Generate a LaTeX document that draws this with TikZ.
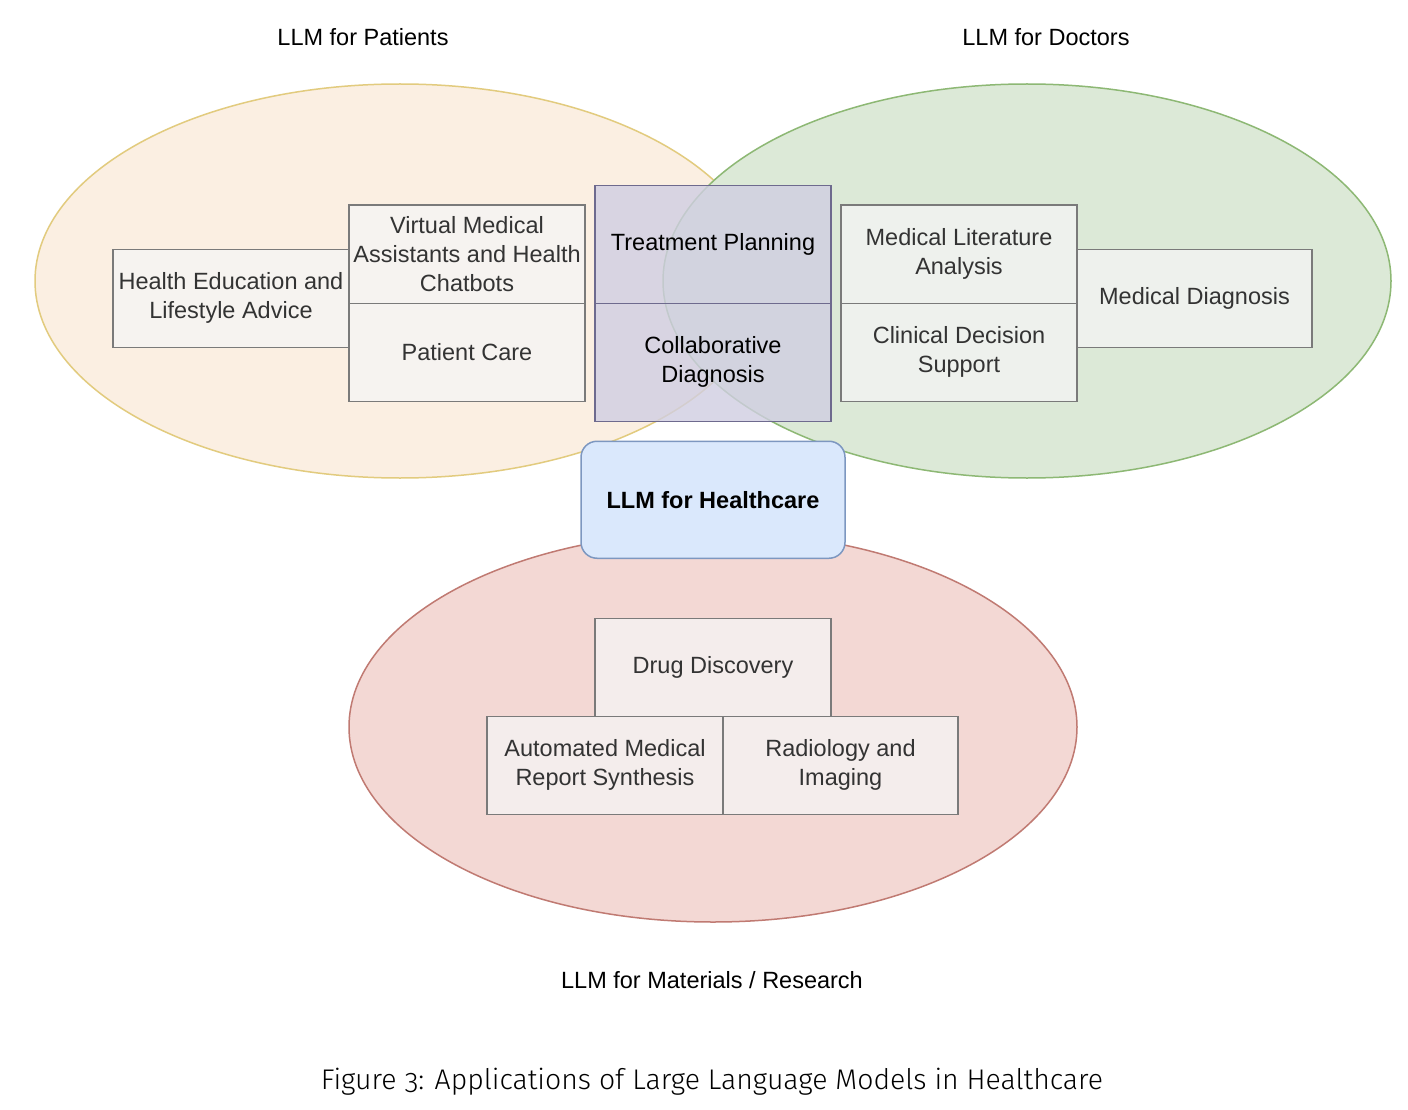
\documentclass[tikz,border=0pt]{standalone}
\usepackage{fontspec}
\setmainfont{Liberation Sans}
\newfontfamily\capfont[Numbers=OldStyle]{Fira Sans Light}
\usepackage{tikz}
\usetikzlibrary{shapes.geometric, positioning, calc}
\definecolor{patfill}{HTML}{FBEFE2}
\definecolor{patline}{HTML}{E2CB7E}
\definecolor{docfill}{HTML}{DCE9D7}
\definecolor{docline}{HTML}{8DB874}
\definecolor{resfill}{HTML}{F3D8D4}
\definecolor{resline}{HTML}{C07A72}
\definecolor{itemfill}{HTML}{F5F5F5}
\definecolor{itemline}{HTML}{7A7A7A}
\definecolor{sharedfill}{HTML}{D0CEE2}
\definecolor{sharedline}{HTML}{6E6A8E}
\definecolor{corefill}{HTML}{DAE8FC}
\definecolor{coreline}{HTML}{7D97C0}
\definecolor{textgray}{HTML}{333333}

\begin{document}
\begin{tikzpicture}[
  x=1pt, y=-1pt,
  font=\fontsize{23.5}{29}\selectfont,
  group/.style={ellipse, line width=1.5pt, minimum width=730pt, minimum height=394pt, inner sep=0pt},
  item/.style={rectangle, draw=itemline, line width=1.5pt, fill=itemfill, fill opacity=0.75, text opacity=1, text=textgray, minimum width=236pt, minimum height=98pt, inner sep=0pt, outer sep=0pt, align=center},
  shared/.style={item, draw=sharedline, fill=sharedfill, fill opacity=0.8, minimum height=117.5pt, text=black},
  core/.style={rectangle, rounded corners=16pt, draw=coreline, line width=1.5pt, fill=corefill, text=black, minimum width=264pt, minimum height=117pt, inner sep=0pt, outer sep=0pt, align=center},
  grouplabel/.style={text=black}
]
  \path[use as bounding box, fill=white] (0,0) rectangle (1408,1110);

  \node[group, draw=patline, fill=patfill] (patients) at (400,281) {};
  \node[group, draw=docline, fill=docfill, minimum width=728pt] (doctors) at (1027,281) {};
  \node[group, draw=resline, fill=resfill, minimum width=728pt, minimum height=390pt] (research) at (713,727) {};

  \node[grouplabel] (patlabel) at (363,37) {LLM for Patients};
  \node[grouplabel] (doclabel) at (1046,37) {LLM for Doctors};
  \node[grouplabel] (reslabel) at (712,980) {LLM for Materials / Research};

  \node[shared] (tp) at (713,244.5) {Treatment Planning};
  \node[shared, below=0pt of tp, minimum height=118pt] (cd) {Collaborative\\Diagnosis};

  \node[item, anchor=south east] (va) at ([xshift=-10pt]tp.south west) {Virtual Medical\\Assistants and Health\\Chatbots};
  \node[item, below=0pt of va] (pc) {Patient Care};
  \node[item, anchor=east] (he) at ([yshift=5pt]va.south west) {Health Education and\\Lifestyle Advice};

  \node[item, anchor=south west] (ml) at ([xshift=10pt]tp.south east) {Medical Literature\\Analysis};
  \node[item, below=0pt of ml] (cs) {Clinical Decision\\Support};
  \node[item, anchor=west, minimum width=235pt] (md) at ([yshift=5pt]ml.south east) {Medical Diagnosis};

  \node[core, below=20pt of cd] (hc) {\textbf{LLM for Healthcare}};

  \node[item, below=60pt of hc] (dd) {Drug Discovery};
  \node[item, anchor=north east] (am) at ([xshift=10pt]dd.south) {Automated Medical\\Report Synthesis};
  \node[item, right=0pt of am, minimum width=235pt] (rd) {Radiology and\\Imaging};

  \node (caption) at (712,1082) {\capfont\fontsize{28.4}{34}\selectfont Figure 3: Applications of Large Language Models in Healthcare};
\end{tikzpicture}
\end{document}
